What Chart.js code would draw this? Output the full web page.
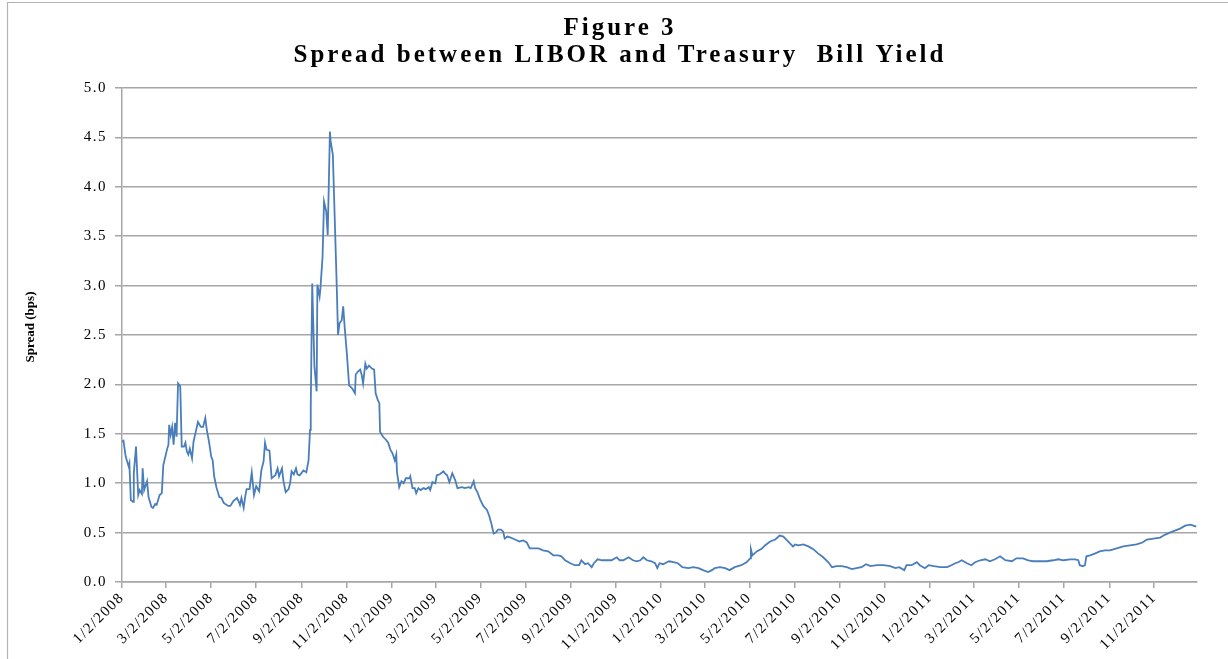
<!DOCTYPE html>
<html>
<head>
<meta charset="utf-8">
<script src="https://cdn.jsdelivr.net/npm/chart.js@4.4.1/dist/chart.umd.min.js"></script>
<style>
html,body{margin:0;padding:0;background:#fff;overflow:hidden}
#wrap{position:relative;width:1228px;height:659px}
</style>
</head>
<body>
<div id="wrap"><canvas id="c" width="1228" height="659"></canvas></div>
<script>
// ---- text ----
const titleLines = ['Figure 3', 'Spread between LIBOR and Treasury  Bill Yield'];
const yAxisTitle = 'Spread (bps)';

// ---- x axis (dates, m/d/yyyy) ----
const startDate = '1/2/2008';
const endDate = '12/30/2011';
const tickLabels = ['1/2/2008','3/2/2008','5/2/2008','7/2/2008','9/2/2008','11/2/2008',
  '1/2/2009','3/2/2009','5/2/2009','7/2/2009','9/2/2009','11/2/2009',
  '1/2/2010','3/2/2010','5/2/2010','7/2/2010','9/2/2010','11/2/2010',
  '1/2/2011','3/2/2011','5/2/2011','7/2/2011','9/2/2011','11/2/2011'];

// ---- y axis ----
const yMin = 0, yMax = 5, yStep = 0.5;

// ---- series: days since 1/2/2008, spread values ----
const days = [0,2,5,9,10,12,15,16,19,20,22,24,27,28,30,34,36,40,42,45,47,51,54,56,61,63,64,66,68,70,
72,74,76,79,81,84,86,88,90,92,95,97,100,103,107,110,113,115,118,121,123,125,128,132,135,138,144,147,151,156,
158,160,162,165,167,169,173,176,179,182,186,189,192,194,196,200,203,208,211,213,217,219,222,226,228,230,233,236,238,241,
246,250,253,255,256,258,259,261,264,265,268,269,272,274,277,279,282,283,286,289,291,293,295,298,300,302,305,308,312,316,
317,320,323,325,327,330,332,335,339,342,344,347,349,350,354,358,361,364,367,370,372,373,376,379,382,385,390,391,394,397,
399,402,405,409,412,416,418,421,425,427,431,436,438,441,444,448,452,455,461,465,470,473,477,479,482,486,490,495,498,501,
504,507,510,514,517,519,523,527,533,539,544,549,553,558,565,571,578,585,592,596,601,608,614,620,623,628,632,637,640,645,
651,657,664,671,675,680,687,693,698,703,707,712,718,723,726,729,734,739,742,748,754,760,768,775,782,788,795,800,804,811,
818,824,831,840,847,852,853,855,861,868,872,879,886,892,897,901,906,910,913,917,924,931,938,944,951,958,963,969,976,983,
990,996,1003,1009,1015,1024,1033,1042,1049,1054,1061,1064,1071,1078,1082,1089,1094,1101,1110,1119,1125,1130,1134,1139,1146,1152,1157,1164,1171,1177,
1184,1191,1198,1207,1213,1222,1229,1236,1245,1254,1263,1270,1277,1286,1293,1297,1299,1303,1306,1308,1313,1320,1326,1333,1340,1349,1358,1367,1376,1384,
1390,1399,1408,1415,1421,1428,1435,1442,1449,1453,1457];
const spread = [1.42,1.43,1.27,1.17,1.20,0.83,0.81,1.10,1.37,1.37,0.88,0.93,0.89,1.15,0.93,1.02,0.86,0.76,0.75,0.79,0.78,0.88,0.90,1.18,1.34,1.39,1.59,1.49,1.57,1.39,
1.61,1.47,2.01,1.98,1.37,1.37,1.41,1.32,1.29,1.35,1.25,1.42,1.52,1.62,1.57,1.57,1.66,1.54,1.42,1.27,1.23,1.07,0.96,0.86,0.85,0.80,0.77,0.77,0.82,0.85,
0.82,0.78,0.85,0.75,0.86,0.94,0.94,1.11,0.88,0.97,0.92,1.13,1.22,1.41,1.34,1.33,1.05,1.08,1.15,1.07,1.15,1.02,0.91,0.94,1.00,1.12,1.09,1.15,1.09,1.08,
1.13,1.11,1.23,1.54,1.77,3.02,3.02,2.18,1.93,3.01,2.89,2.96,3.29,3.85,3.75,3.51,4.56,4.46,4.32,3.56,3.06,2.50,2.62,2.65,2.79,2.58,2.31,1.99,1.96,1.91,
2.10,2.13,2.15,2.10,2.01,2.21,2.16,2.19,2.16,2.15,1.91,1.84,1.81,1.52,1.47,1.44,1.41,1.34,1.30,1.23,1.29,1.11,0.96,1.02,1.00,1.05,1.05,1.07,0.95,0.95,
0.90,0.95,0.93,0.95,0.94,0.96,0.93,1.01,1.00,1.08,1.09,1.12,1.10,1.08,1.01,1.10,1.03,0.95,0.96,0.95,0.96,0.95,1.02,0.95,0.91,0.83,0.77,0.73,0.67,0.59,
0.49,0.50,0.53,0.53,0.51,0.44,0.46,0.45,0.43,0.41,0.42,0.40,0.34,0.34,0.34,0.32,0.31,0.27,0.27,0.26,0.22,0.19,0.17,0.17,0.22,0.18,0.19,0.15,0.19,0.23,
0.22,0.22,0.22,0.25,0.22,0.22,0.25,0.22,0.21,0.22,0.25,0.22,0.21,0.19,0.14,0.19,0.18,0.20,0.21,0.20,0.19,0.15,0.14,0.15,0.14,0.12,0.10,0.12,0.14,0.15,
0.14,0.12,0.15,0.17,0.20,0.24,0.33,0.27,0.31,0.34,0.37,0.41,0.43,0.47,0.46,0.43,0.39,0.36,0.38,0.37,0.38,0.36,0.33,0.29,0.25,0.20,0.15,0.16,0.16,0.15,
0.13,0.14,0.15,0.18,0.16,0.17,0.17,0.16,0.14,0.15,0.12,0.17,0.17,0.20,0.17,0.14,0.17,0.16,0.15,0.15,0.17,0.19,0.20,0.22,0.19,0.17,0.20,0.22,0.23,0.21,
0.23,0.26,0.22,0.21,0.24,0.24,0.22,0.21,0.21,0.21,0.22,0.23,0.22,0.23,0.23,0.22,0.17,0.16,0.17,0.26,0.27,0.29,0.31,0.32,0.32,0.34,0.36,0.37,0.38,0.40,
0.43,0.44,0.45,0.48,0.50,0.52,0.54,0.57,0.58,0.57,0.56];

// ---- helpers ----
function dayOffset(label){
  const p = label.split('/').map(Number);
  const s = startDate.split('/').map(Number);
  return Math.round((Date.UTC(p[2],p[0]-1,p[1]) - Date.UTC(s[2],s[0]-1,s[1])) / 864e5);
}
const tickDays = tickLabels.map(dayOffset);
const xMax = dayOffset(endDate);

const SERIF = '"Liberation Serif", "Times New Roman", serif';
const GRID = '#a6a6a6';

const decorPlugin = {
  id: 'decor',
  beforeDraw(chart){
    const c = chart.ctx;
    c.save();
    c.fillStyle = '#fff';
    c.fillRect(0,0,chart.width,chart.height);
    c.strokeStyle = '#b4b4b4';
    c.lineWidth = 1.2;
    c.beginPath();
    c.moveTo(7.5, chart.height + 2);
    c.lineTo(7.5, 2.5);
    c.lineTo(chart.width + 2, 2.5);
    c.stroke();
    c.fillStyle = '#000';
    c.font = 'bold 25px ' + SERIF;
    c.letterSpacing = '3px';
    c.textAlign = 'center';
    c.textBaseline = 'alphabetic';
    c.fillText(titleLines[0], 620, 35);
    c.fillText(titleLines[1], 620, 62);
    c.letterSpacing = '0px';
    c.font = 'bold 13px ' + SERIF;
    c.translate(31, (chart.chartArea.top + chart.chartArea.bottom) / 2 - 8);
    c.rotate(-Math.PI/2);
    c.textBaseline = 'middle';
    c.fillText(yAxisTitle, 0, 0);
    c.restore();
    c.letterSpacing = '1.5px';
  }
};

new Chart(document.getElementById('c').getContext('2d'), {
  type: 'line',
  data: {
    datasets: [{
      data: days.map((d,i) => ({x: d, y: spread[i]})),
      borderColor: '#4a7ebb',
      borderWidth: 1.8,
      pointRadius: 0,
      tension: 0,
      fill: false
    }]
  },
  options: {
    responsive: false,
    animation: false,
    devicePixelRatio: 1,
    layout: { padding: { top: 88, right: 31, bottom: 0, left: 0 } },
    plugins: { legend: {display:false}, tooltip: {enabled:false}, title: {display:false} },
    scales: {
      x: {
        type: 'linear',
        min: 0,
        max: xMax,
        afterBuildTicks(s){ s.ticks = tickDays.map(v => ({value: v})); },
        afterFit(s){ s.height = 77; },
        ticks: {
          autoSkip: false, maxRotation: 45, minRotation: 45, padding: 1,
          color: '#000', font: {family: SERIF, size: 15},
          callback: (v, i) => tickLabels[i]
        },
        grid: { drawOnChartArea: false, drawTicks: true, tickLength: 6, color: GRID, lineWidth: 1.5 },
        border: { color: GRID, width: 1.5 }
      },
      y: {
        min: yMin, max: yMax,
        afterFit(s){ s.width = 122; },
        ticks: {
          stepSize: yStep, padding: 8, color: '#000',
          font: {family: SERIF, size: 15},
          callback: v => Number(v).toFixed(1)
        },
        grid: { color: GRID, lineWidth: 1.5, tickLength: 7 },
        border: { color: GRID, width: 1.5 }
      }
    }
  },
  plugins: [decorPlugin]
});
</script>
</body>
</html>
